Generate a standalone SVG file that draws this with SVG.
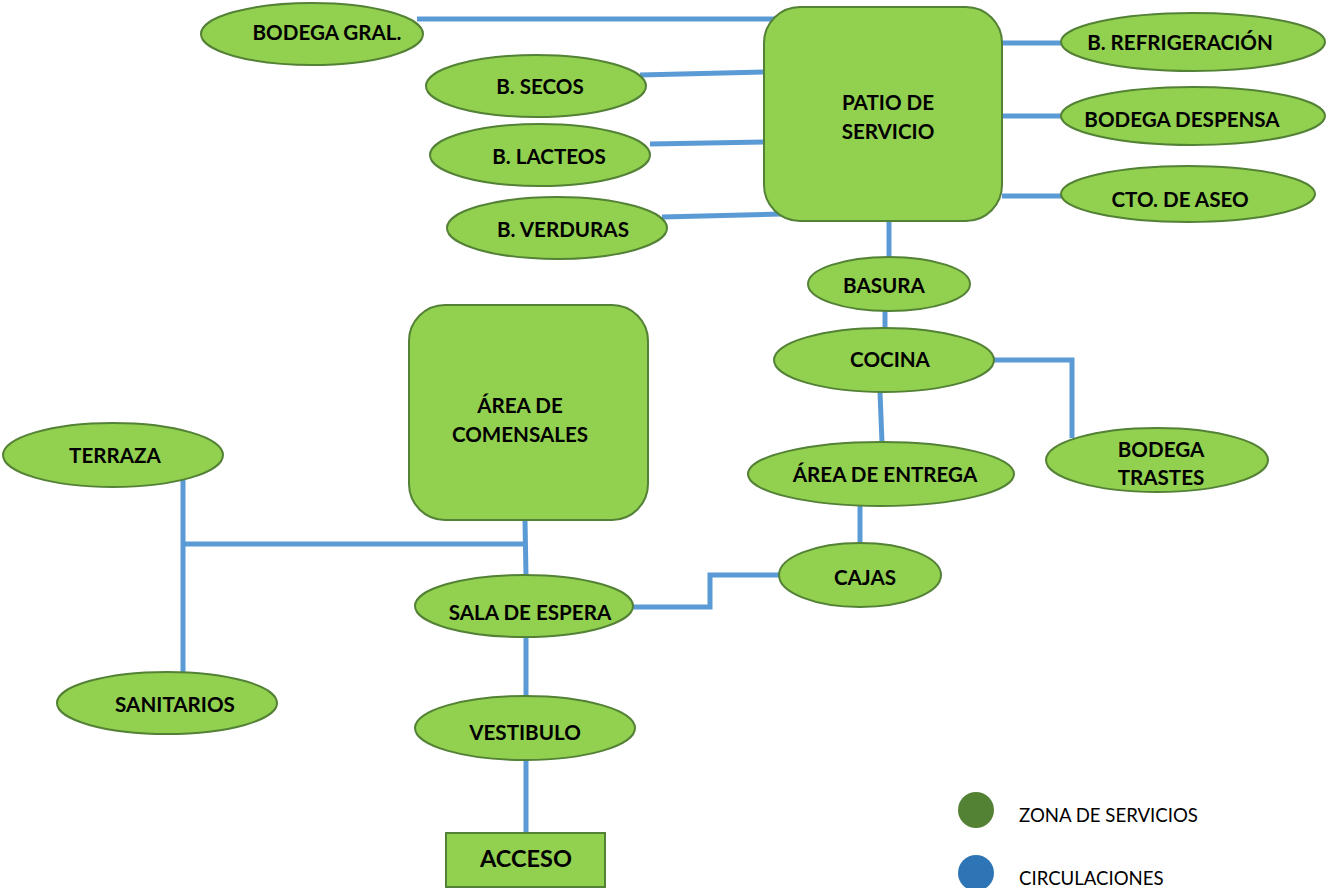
<svg xmlns="http://www.w3.org/2000/svg" width="1326" height="888" viewBox="0 0 1326 888">
<style>
.n{fill:#92D050;stroke:#538135;stroke-width:2}
.t{font-family:Lato,"Liberation Sans",sans-serif;font-weight:bold;font-size:20.6px;fill:#000;text-anchor:middle}
.c{fill:none;stroke:#5B9BD5;stroke-width:5}
.l{font-family:Lato,"Liberation Sans",sans-serif;font-size:18.6px;fill:#000}
</style>
<rect width="1326" height="888" fill="#fff"/>
<g id="connectors">
<line class="c" x1="417" y1="19" x2="776" y2="19"/>
<line class="c" x1="640" y1="75" x2="765" y2="72"/>
<line class="c" x1="650" y1="144" x2="765" y2="142"/>
<line class="c" x1="662" y1="217" x2="782" y2="214"/>
<line class="c" x1="1002" y1="43" x2="1062" y2="43"/>
<line class="c" x1="1002" y1="116" x2="1062" y2="116"/>
<line class="c" x1="1002" y1="196" x2="1062" y2="196"/>
<line class="c" x1="889" y1="221" x2="889" y2="258"/>
<line class="c" x1="885" y1="310" x2="885" y2="330"/>
<polyline class="c" points="992,360 1072,360 1072,438"/>
<line class="c" x1="880" y1="392" x2="882" y2="443"/>
<line class="c" x1="860" y1="505" x2="860" y2="545"/>
<polyline class="c" points="633,607 710,607 710,575 781,575"/>
<line class="c" x1="525" y1="520" x2="526" y2="576"/>
<line class="c" x1="183" y1="544" x2="525" y2="544"/>
<line class="c" x1="183" y1="480" x2="183" y2="672"/>
<line class="c" x1="526" y1="637" x2="526" y2="697"/>
<line class="c" x1="526" y1="759" x2="526" y2="834"/>
</g>
<g id="bodega-gral"><ellipse class="n" cx="312" cy="34" rx="111" ry="31"/><text class="t" x="327" y="40">BODEGA GRAL.</text></g>
<g id="b-secos"><ellipse class="n" cx="536" cy="86" rx="110" ry="31"/><text class="t" x="540" y="94">B. SECOS</text></g>
<g id="b-lacteos"><ellipse class="n" cx="540" cy="155" rx="110" ry="31"/><text class="t" x="549" y="164">B. LACTEOS</text></g>
<g id="b-verduras"><ellipse class="n" cx="557" cy="228" rx="110" ry="31"/><text class="t" x="563" y="237">B. VERDURAS</text></g>
<g id="patio-servicio"><rect class="n" x="764" y="7" width="238" height="214" rx="36"/><text class="t" x="888" y="110">PATIO DE</text><text class="t" x="888" y="139">SERVICIO</text></g>
<g id="b-refrigeracion"><ellipse class="n" cx="1193" cy="42" rx="132" ry="29"/><text class="t" x="1180" y="50">B. REFRIGERACIÓN</text></g>
<g id="bodega-despensa"><ellipse class="n" cx="1193" cy="116" rx="132" ry="29"/><text class="t" x="1182" y="127">BODEGA DESPENSA</text></g>
<g id="cto-aseo"><ellipse class="n" cx="1188" cy="194" rx="127" ry="28"/><text class="t" x="1180" y="207">CTO. DE ASEO</text></g>
<g id="basura"><ellipse class="n" cx="889" cy="284" rx="81" ry="27"/><text class="t" x="884" y="293">BASURA</text></g>
<g id="cocina"><ellipse class="n" cx="884" cy="360" rx="110" ry="32"/><text class="t" x="890" y="367">COCINA</text></g>
<g id="bodega-trastes"><ellipse class="n" cx="1157" cy="460" rx="111" ry="32"/><text class="t" x="1161" y="457">BODEGA</text><text class="t" x="1161" y="485">TRASTES</text></g>
<g id="area-entrega"><ellipse class="n" cx="881" cy="474" rx="133" ry="32"/><text class="t" x="885" y="482">ÁREA DE ENTREGA</text></g>
<g id="cajas"><ellipse class="n" cx="860" cy="575" rx="81" ry="32"/><text class="t" x="865" y="585">CAJAS</text></g>
<g id="area-comensales"><rect class="n" x="409" y="305" width="239" height="215" rx="36"/><text class="t" x="520" y="413">ÁREA DE</text><text class="t" x="520" y="442">COMENSALES</text></g>
<g id="terraza"><ellipse class="n" cx="113" cy="455" rx="110" ry="32"/><text class="t" x="115" y="463">TERRAZA</text></g>
<g id="sala-espera"><ellipse class="n" cx="524" cy="606" rx="109" ry="31"/><text class="t" x="530" y="620">SALA DE ESPERA</text></g>
<g id="sanitarios"><ellipse class="n" cx="167" cy="703" rx="110" ry="31"/><text class="t" x="175" y="712">SANITARIOS</text></g>
<g id="vestibulo"><ellipse class="n" cx="525" cy="728" rx="110" ry="32"/><text class="t" x="525" y="740">VESTIBULO</text></g>
<g id="acceso"><rect class="n" x="446" y="833" width="159" height="54"/><text class="t" x="526" y="867" style="font-size:23.5px">ACCESO</text></g>
<g id="legend">
<circle cx="976" cy="810" r="18" fill="#548235"/>
<text class="l" x="1019" y="822">ZONA DE SERVICIOS</text>
<circle cx="976" cy="873" r="18" fill="#2E75B6"/>
<text class="l" x="1019" y="885">CIRCULACIONES</text>
</g>
</svg>
